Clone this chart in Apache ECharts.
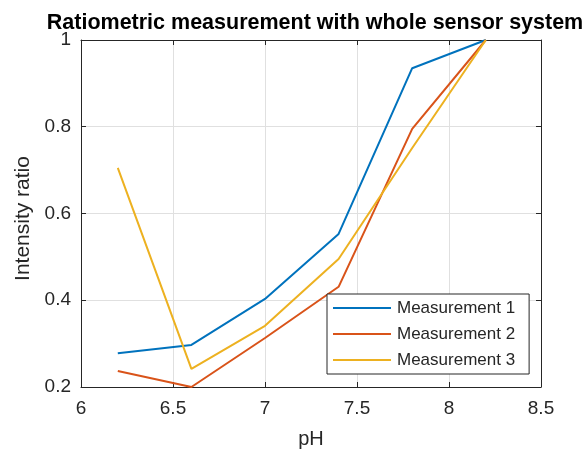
<!DOCTYPE html>
<html>
<head>
<meta charset="utf-8">
<script src="https://cdn.jsdelivr.net/npm/echarts@6/dist/echarts.min.js"></script>
<style>html,body{margin:0;padding:0;background:#fff}#c{width:584px;height:450px}</style>
</head>
<body>
<div id="c"></div>
<script>
var phValues = [6.2, 6.6, 7.0, 7.4, 7.8, 8.2];
var measurement1 = [0.278, 0.297, 0.403, 0.553, 0.935, 1.0];
var measurement2 = [0.237, 0.200, 0.313, 0.431, 0.795, 1.0];
var measurement3 = [0.705, 0.242, 0.341, 0.495, 0.751, 1.0];
var seriesNames = ['Measurement 1', 'Measurement 2', 'Measurement 3'];
var seriesColors = ['#0072BD', '#D95319', '#EDB120'];
var titleText = 'Ratiometric measurement with whole sensor system';

function pairs(ys) { return phValues.map(function (x, i) { return [x, ys[i]]; }); }
var allData = [measurement1, measurement2, measurement3];
var FONT = '"Liberation Sans", Arial, Helvetica, sans-serif';
var TXT = '#262626';

var chart = echarts.init(document.getElementById('c'), null, { renderer: 'canvas' });
var boxAxis = {
  show: true,
  axisLine: { show: true, lineStyle: { color: TXT, width: 1 } },
  axisTick: { show: true, inside: true, length: 5, lineStyle: { color: TXT } },
  axisLabel: { show: false },
  splitLine: { show: false }
};
chart.setOption({
  animation: false,
  backgroundColor: '#fff',
  title: {
    text: titleText,
    left: 310, top: 7, textAlign: 'center',
    textStyle: { fontFamily: FONT, fontWeight: 'bold', fontSize: 21.5, color: '#000' }
  },
  grid: { left: 81, right: 43, top: 40, bottom: 63, containLabel: false, outerBoundsMode: 'none' },
  legend: {
    orient: 'vertical', left: 327, top: 294,
    width: 200,
    backgroundColor: '#fff', borderColor: TXT, borderWidth: 1,
    padding: [5, 14, 5, 6],
    itemWidth: 58, itemHeight: 2, itemGap: 8, icon: 'rect',
    textStyle: { fontFamily: FONT, fontSize: 17, color: TXT, padding: [0, 0, 0, 1], lineHeight: 18 },
    data: seriesNames
  },
  xAxis: [{
    type: 'value', min: 6, max: 8.5, interval: 0.5,
    name: 'pH', nameLocation: 'middle', nameGap: 42,
    nameTextStyle: { fontFamily: FONT, fontSize: 20, color: TXT },
    axisLine: { show: true, onZero: false, lineStyle: { color: TXT } },
    axisTick: { show: true, inside: true, length: 5, lineStyle: { color: TXT } },
    axisLabel: { fontFamily: FONT, fontSize: 19, color: TXT, margin: 12 },
    splitLine: { show: true, lineStyle: { color: '#e0e0e0', width: 1 } }
  }, Object.assign({ type: 'value', position: 'top', min: 6, max: 8.5, interval: 0.5 }, boxAxis)],
  yAxis: [{
    type: 'value', min: 0.2, max: 1, interval: 0.2,
    name: 'Intensity ratio', nameLocation: 'middle', nameGap: 42,
    nameTextStyle: { fontFamily: FONT, fontSize: 21, color: TXT, padding: [0, 10, 0, 0] },
    axisLine: { show: true, onZero: false, lineStyle: { color: TXT } },
    axisTick: { show: true, inside: true, length: 5, lineStyle: { color: TXT } },
    axisLabel: { fontFamily: FONT, fontSize: 19, color: TXT, margin: 10,
      formatter: function (v) { return String(Math.round(v * 10) / 10); } },
    splitLine: { show: true, lineStyle: { color: '#e0e0e0', width: 1 } }
  }, Object.assign({ type: 'value', position: 'right', min: 0.2, max: 1, interval: 0.2 }, boxAxis)],
  series: allData.map(function (d, i) {
    return {
      name: seriesNames[i], type: 'line', data: pairs(d),
      symbol: 'none', showSymbol: false,
      lineStyle: { color: seriesColors[i], width: 2 },
      itemStyle: { color: seriesColors[i] },
      z: 2 + i
    };
  })
});
</script>
</body>
</html>
